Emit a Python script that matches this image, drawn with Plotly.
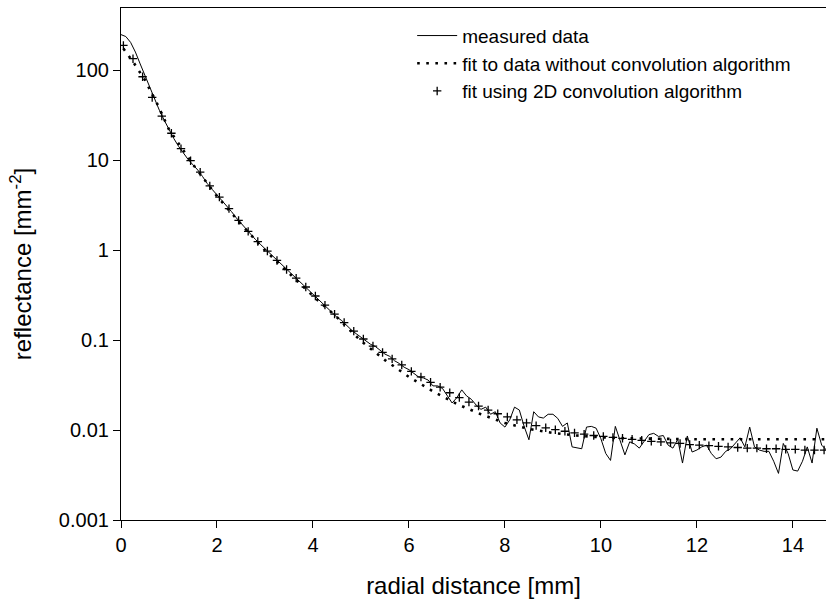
import plotly.graph_objects as go

# measured reflectance, sampled every 0.1 mm from 0 to 14.7 mm
measured_x = [round(0.1 * i, 1) for i in range(148)]
measured_y = [
    250, 238, 205, 160, 118, 88, 64, 47, 36, 28,
    22, 17.5, 14.3, 12.0, 10.2, 8.9, 7.8, 6.6, 5.5, 4.75,
    4.15, 3.6, 3.1, 2.7, 2.3, 2.0, 1.72, 1.5, 1.32, 1.17,
    1.04, 0.92, 0.82, 0.72, 0.64, 0.57, 0.51, 0.455, 0.41, 0.365,
    0.325, 0.29, 0.255, 0.23, 0.2, 0.18, 0.165, 0.145, 0.13, 0.118,
    0.108, 0.098, 0.09, 0.085, 0.078, 0.07, 0.066, 0.059, 0.055, 0.05,
    0.047, 0.043, 0.039, 0.038, 0.036, 0.031, 0.031, 0.029, 0.024, 0.020,
    0.023, 0.028, 0.024, 0.022, 0.019, 0.017, 0.018, 0.015, 0.016, 0.012,
    0.0108, 0.013, 0.018, 0.0167, 0.011, 0.0078, 0.016, 0.014, 0.0136, 0.015,
    0.015, 0.0135, 0.011, 0.012, 0.0065, 0.0064, 0.0062, 0.0108, 0.011, 0.0105,
    0.008, 0.0055, 0.0046, 0.011, 0.0075, 0.0053, 0.0074, 0.007, 0.0063, 0.0075,
    0.0089, 0.0092, 0.0085, 0.0087, 0.0068, 0.0063, 0.0079, 0.0043, 0.0086, 0.0057,
    0.006, 0.0065, 0.0068, 0.0055, 0.0048, 0.005, 0.0058, 0.0062, 0.0072, 0.0082,
    0.0065, 0.0108, 0.0065, 0.006, 0.0058, 0.0058, 0.0045, 0.0033, 0.0071, 0.0055,
    0.0036, 0.0035, 0.0045, 0.0065, 0.0043, 0.0105, 0.0068, 0.006,
]

# fit without convolution (dotted)
plain_fit_x = [0.05, 0.25, 0.5, 0.75, 1.0, 1.5, 2.0, 2.5, 3.0, 3.5, 4.0, 4.5, 5.0, 5.5,
               6.0, 6.5, 7.0, 7.5, 8.0, 8.5, 9.0, 9.5, 10.0, 10.5, 11.0, 11.5, 12.0,
               13.0, 14.0, 14.7]
plain_fit_y = [175, 125, 78, 43, 22, 9.0, 4.0, 1.95, 1.0, 0.55, 0.31, 0.18, 0.098, 0.06,
               0.039, 0.027, 0.0195, 0.015, 0.012, 0.0103, 0.0093, 0.0087, 0.0083, 0.0081,
               0.0080, 0.0079, 0.0079, 0.0079, 0.0079, 0.0079]

# fit using the 2D convolution algorithm (+ markers), every 0.2 mm
conv_fit_x = [round(0.05 + 0.2 * i, 2) for i in range(74)]
conv_fit_y = [
    190, 135, 85, 50, 31, 20, 13.5, 9.9, 7.4, 5.2,
    3.9, 2.9, 2.15, 1.62, 1.25, 0.98, 0.77, 0.61, 0.49, 0.39,
    0.31, 0.245, 0.195, 0.157, 0.126, 0.103, 0.086, 0.073, 0.062, 0.053,
    0.045, 0.039, 0.034, 0.030, 0.026, 0.023, 0.0205, 0.0185, 0.0167, 0.0152,
    0.014, 0.013, 0.012, 0.0112, 0.0106, 0.0101, 0.0097, 0.0093, 0.009, 0.0087,
    0.0085, 0.0083, 0.0081, 0.0079, 0.0077, 0.0075, 0.0074, 0.0072, 0.0071, 0.0069,
    0.0068, 0.0067, 0.0066, 0.0065, 0.0064, 0.0063, 0.0063, 0.0062, 0.0062, 0.0061,
    0.0061, 0.006, 0.006, 0.006,
]

y_ticks = [0.001, 0.01, 0.1, 1, 10, 100]
y_labels = ["0.001", "0.01", "0.1", "1", "10", "100"]
x_ticks = [0, 2, 4, 6, 8, 10, 12, 14]

FONT = "Liberation Sans, Arial, sans-serif"

fig = go.Figure()

fig.add_trace(go.Scatter(x=measured_x, y=measured_y, mode='lines',
                         name='measured data',
                         line=dict(color='black', width=1)))

fig.add_trace(go.Scatter(x=plain_fit_x, y=plain_fit_y, mode='lines',
                         name='fit to data without convolution algorithm',
                         line=dict(color='black', width=2.6, dash='2.6px,6.5px')))

fig.add_trace(go.Scatter(x=conv_fit_x, y=conv_fit_y, mode='markers',
                         name='fit using 2D convolution algorithm',
                         marker=dict(symbol='cross-thin', size=6, color='black',
                                     line=dict(color='black', width=1.3))))

fig.update_xaxes(range=[0, 14.69], tickvals=x_ticks, ticks='outside', ticklen=7,
                 tickwidth=1.2, tickcolor='black', showline=True, linecolor='black',
                 linewidth=1.2, mirror=True, showgrid=False, zeroline=False,
                 automargin=False,
                 tickfont=dict(size=20, color='black', family=FONT),
                 title=dict(text='radial distance [mm]', standoff=22,
                            font=dict(size=24, color='black', family=FONT)))

fig.update_yaxes(type='log', range=[-3, 2.694], tickvals=y_ticks, ticktext=y_labels,
                 ticks='outside', ticklen=7, tickwidth=1.2, tickcolor='black',
                 showline=True, linecolor='black', linewidth=1.2, showgrid=False,
                 zeroline=False, automargin=False,
                 tickfont=dict(size=20, color='black', family=FONT),
                 title=dict(text='reflectance [mm<sup>-2</sup>]', standoff=20,
                            font=dict(size=24, color='black', family=FONT)))

fig.update_layout(
    width=826, height=606,
    margin=dict(l=121, r=0, t=8, b=86),
    plot_bgcolor='white', paper_bgcolor='white',
    font=dict(family=FONT, color='black'),
    legend=dict(x=0.413, y=0.983, xanchor='left', yanchor='top',
                bgcolor='rgba(0,0,0,0)', font=dict(size=19, family=FONT, color='black'),
                itemwidth=40, tracegroupgap=0),
)

# drop the page's default body margin so the figure fills the window exactly
fig.write_html("out.html", config={'displayModeBar': False},
               post_script="document.body.style.margin='0';document.body.style.overflow='hidden';")
